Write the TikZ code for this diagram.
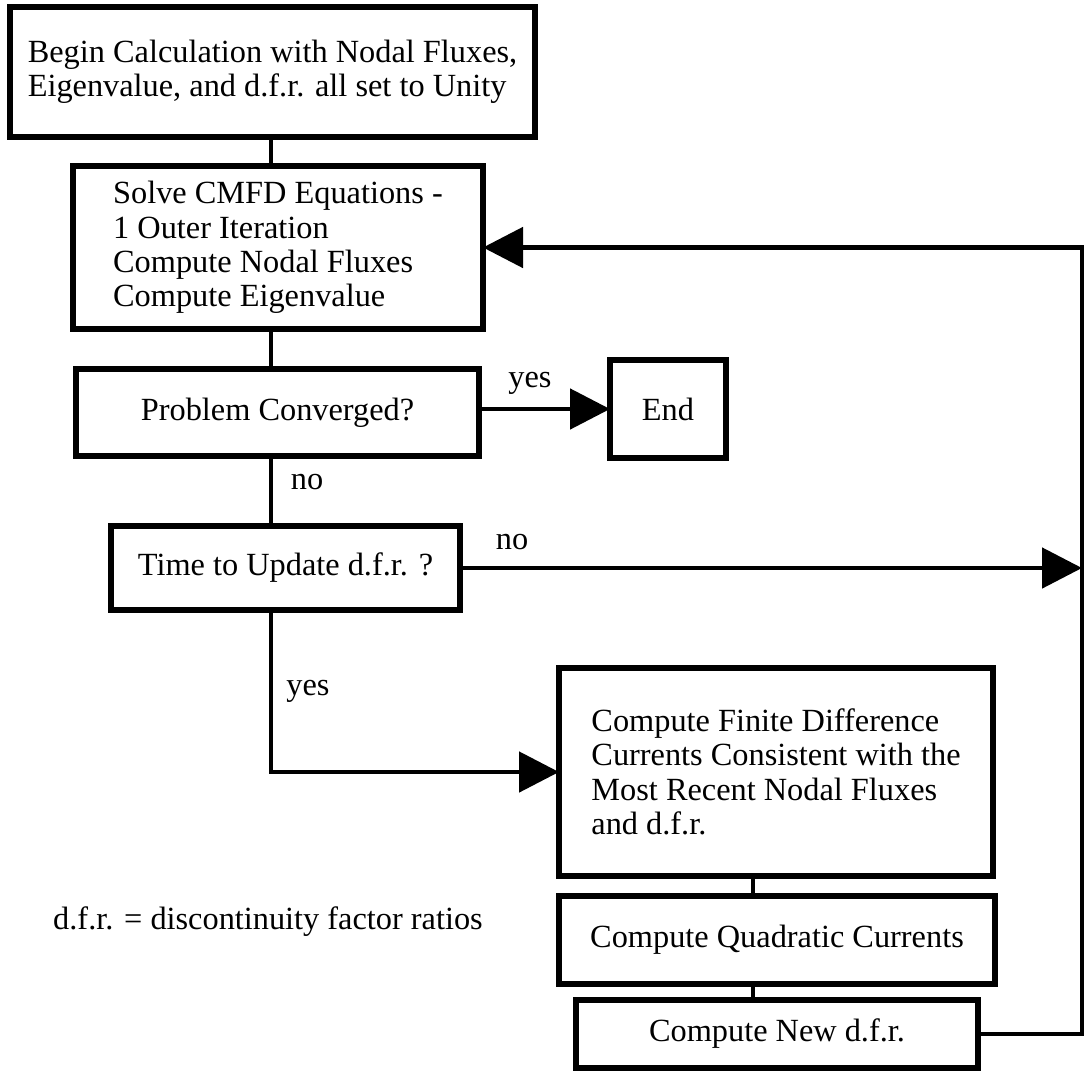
\documentclass[tikz,border=0pt]{standalone}
\usepackage{fontspec}
\setmainfont{Liberation Serif}
\usetikzlibrary{positioning,arrows.meta,calc}

\begin{document}
\begin{tikzpicture}[every node/.style={outer sep=0pt, font=\fontsize{9.2}{9.8}\selectfont},
box/.style={draw, line width=1.7pt, inner sep=0pt, align=left},
link/.style={line width=1.4pt},
arr/.style={link, -{Triangle[length=4mm,width=4mm]}}]
\useasboundingbox (0,0) rectangle (10.89,-10.71);
\node[box, minimum width=5.25cm, minimum height=1.30cm] (b1) at (2.725,-0.72) {Begin Calculation with Nodal Fluxes,\\Eigenvalue, and d.f.r. all set to Unity};
\node[box, minimum width=4.10cm, minimum height=1.63cm] (b2) at (2.78,-2.475) {Solve CMFD Equations -\\1 Outer Iteration\\Compute Nodal Fluxes\\Compute Eigenvalue};
\node[box, minimum width=4.03cm, minimum height=0.87cm] (b3) at (2.775,-4.125) {Problem Converged?};
\node[box, minimum width=1.16cm, minimum height=0.98cm] (endb) at (6.68,-4.09) {End};
\node[box, minimum width=3.49cm, minimum height=0.84cm] (b4) at (2.855,-5.68) {Time to Update d.f.r. ?};
\node[box, minimum width=4.34cm, minimum height=2.08cm] (b5) at (7.76,-7.72) {Compute Finite Difference\\Currents Consistent with the\\Most Recent Nodal Fluxes\\and d.f.r.};
\node[box, minimum width=4.36cm, minimum height=0.88cm] (b6) at (7.77,-9.40) {Compute Quadratic Currents};
\node[box, minimum width=4.02cm, minimum height=0.68cm] (b7) at (7.77,-10.34) {Compute New d.f.r.};
\coordinate (tk) at (2.71,0);
\coordinate (rc) at (7.53,0);
\coordinate (rr) at (10.82,0);
\foreach \a/\b in {b1/b2,b2/b3,b3/b4} {
\draw[link] (\a.south -| tk) -- (\b.north -| tk);
}
\foreach \a/\b in {b5/b6,b6/b7} {
\draw[link] (\a.south -| rc) -- (\b.north -| rc);
}
\draw[arr] (b3.east |- endb.west) -- (endb.west);
\draw[arr] (b4.east) -- (b4.east -| rr);
\draw[arr] (b4.south -| tk) |- (b5.west);
\draw[arr] (b7.east) -| (rr |- b2.east) -- (b2.east);
\node (lyes1) at (5.30,-3.83) {yes};
\node (lno1) at (3.07,-4.82) {no};
\node (lno2) at (5.12,-5.42) {no};
\node (lyes2) at (3.08,-6.91) {yes};
\node (note) at (2.68,-9.22) {d.f.r. = discontinuity factor ratios};
\end{tikzpicture}
\end{document}
